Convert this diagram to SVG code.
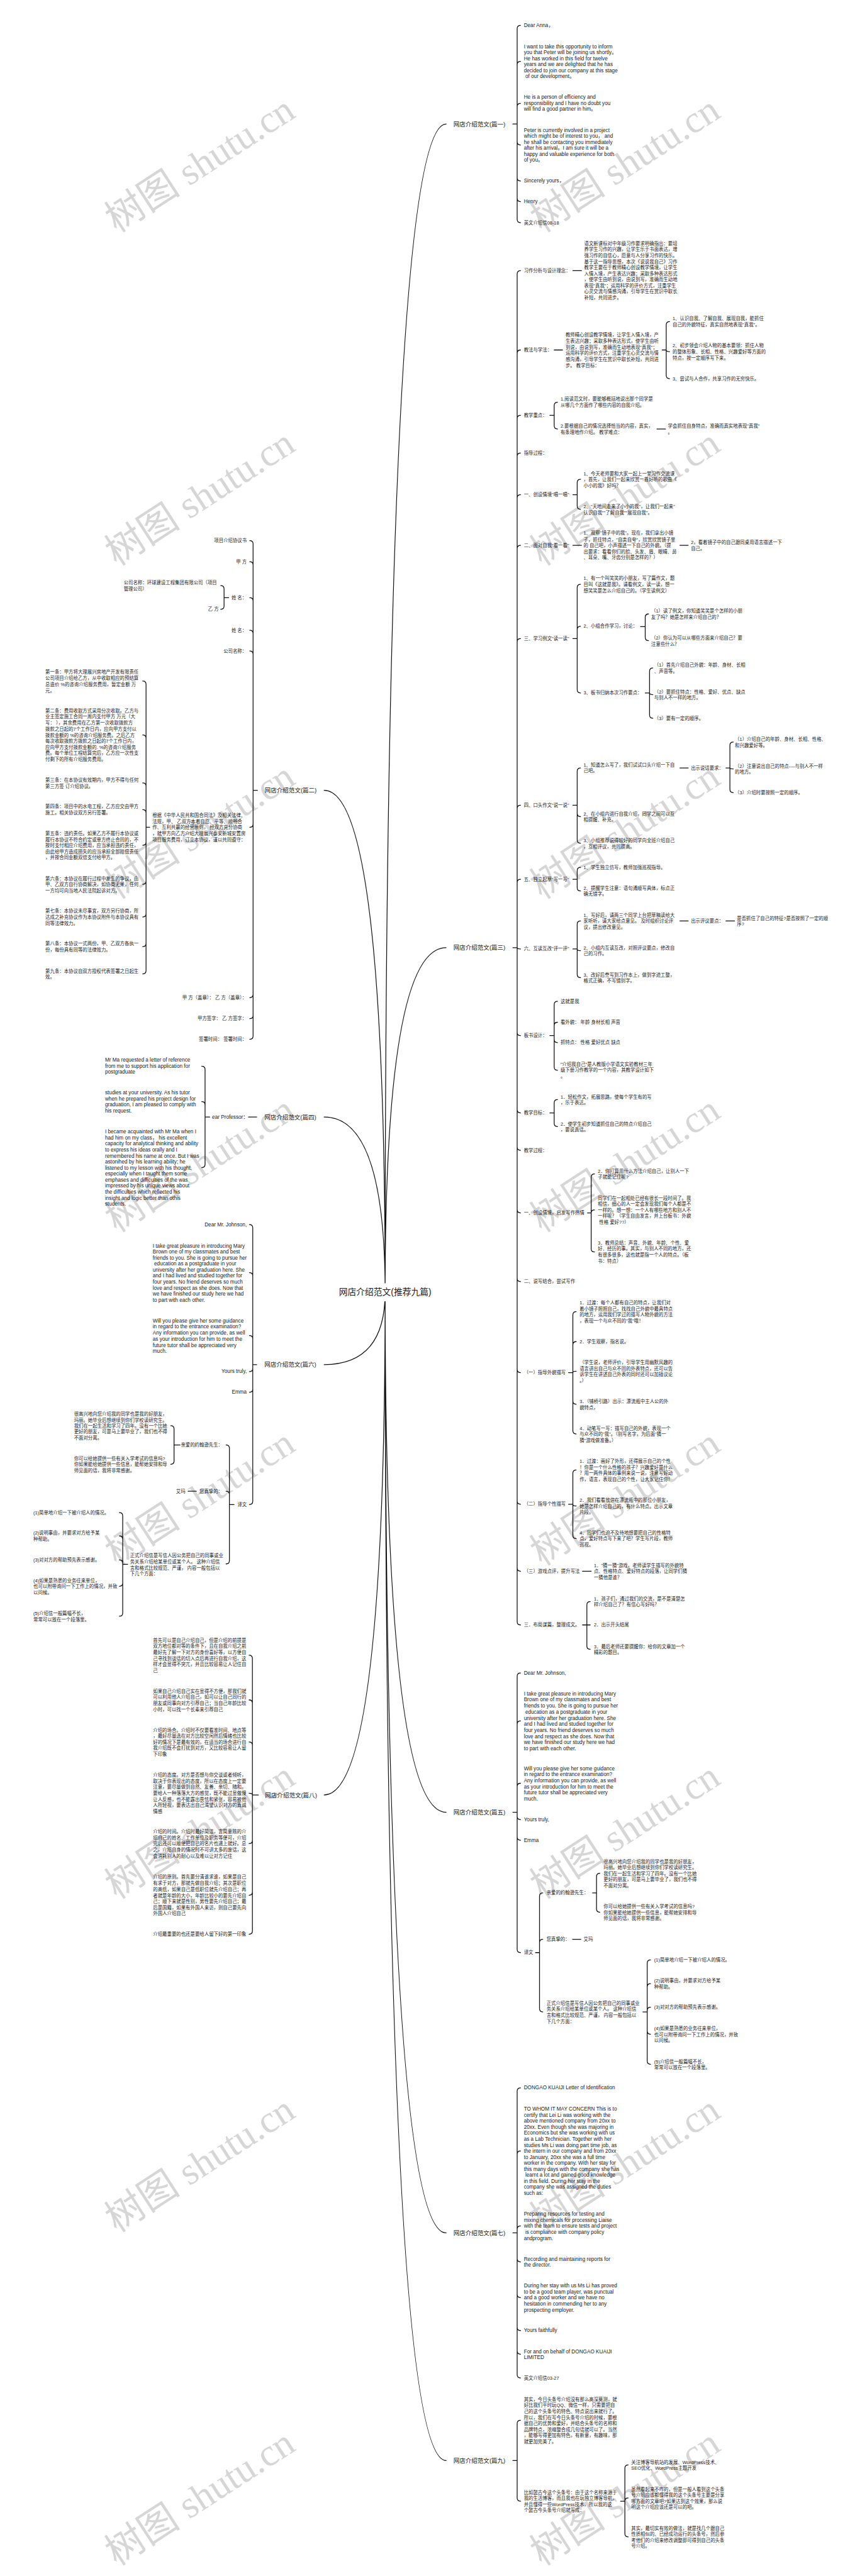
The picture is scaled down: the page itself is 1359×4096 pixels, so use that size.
<svg xmlns="http://www.w3.org/2000/svg" width="1359" height="4096" viewBox="0 0 1359 4096">
<style>
.t{font-family:"Liberation Sans","Noto Sans CJK SC",sans-serif;font-size:14px;fill:#1a1a1a;dominant-baseline:central}
.e{font-size:15.5px}
.h{font-size:18px}
.r{font-size:26px}
.a{text-anchor:end}
.c{fill:none;stroke:#111;stroke-width:2.4;stroke-linecap:round}
.wm{font-family:"Liberation Serif","Noto Sans CJK SC",serif;font-size:115px;fill:#d6d6d6}
</style>
<rect width="1359" height="4096" fill="#fff"/>
<g transform="scale(0.53)">
<g id="watermarks">
<text class="wm" transform="translate(350 700) rotate(-33)">树图 shutu.cn</text>
<text class="wm" transform="translate(1625 700) rotate(-33)">树图 shutu.cn</text>
<text class="wm" transform="translate(350 1700) rotate(-33)">树图 shutu.cn</text>
<text class="wm" transform="translate(1625 1700) rotate(-33)">树图 shutu.cn</text>
<text class="wm" transform="translate(350 2700) rotate(-33)">树图 shutu.cn</text>
<text class="wm" transform="translate(1625 2700) rotate(-33)">树图 shutu.cn</text>
<text class="wm" transform="translate(350 3700) rotate(-33)">树图 shutu.cn</text>
<text class="wm" transform="translate(1625 3700) rotate(-33)">树图 shutu.cn</text>
<text class="wm" transform="translate(350 4700) rotate(-33)">树图 shutu.cn</text>
<text class="wm" transform="translate(1625 4700) rotate(-33)">树图 shutu.cn</text>
<text class="wm" transform="translate(350 5700) rotate(-33)">树图 shutu.cn</text>
<text class="wm" transform="translate(1625 5700) rotate(-33)">树图 shutu.cn</text>
<text class="wm" transform="translate(350 6700) rotate(-33)">树图 shutu.cn</text>
<text class="wm" transform="translate(1625 6700) rotate(-33)">树图 shutu.cn</text>
<text class="wm" transform="translate(350 7700) rotate(-33)">树图 shutu.cn</text>
<text class="wm" transform="translate(1625 7700) rotate(-33)">树图 shutu.cn</text>
</g>
<g id="connectors">
<path class="c" d="M1155 3877Q1155 372 1338 372M1155 3877Q1155 2843 1338 2843M1155 3877Q1155 5437 1338 5437M1155 3877Q1155 6699 1338 6699M1155 3877Q1155 7382 1338 7382M1155 3877Q1155 2371 972 2371M1155 3877Q1155 3351 972 3351M1155 3877Q1155 4094 972 4094M1155 3877Q1155 5385 972 5385"/>
<path class="c" d="M1538 372H1551M1551 372V86Q1551 76 1561 76M1551 372V194Q1551 184 1561 184M1551 372V320Q1551 310 1561 310M1551 372V425Q1551 435 1561 435M1551 372V533Q1551 543 1561 543M1551 372V595Q1551 605 1561 605M1551 372V658Q1551 668 1561 668"/>
<path class="c" d="M1538 2843H1551M1551 2843V822Q1551 812 1561 812M1551 2843V1060Q1551 1050 1561 1050M1551 2843V1256Q1551 1246 1561 1246M1551 2843V1369Q1551 1359 1561 1359M1551 2843V1494Q1551 1484 1561 1484M1551 2843V1646Q1551 1636 1561 1636M1551 2843V1926Q1551 1916 1561 1916M1551 2843V2426Q1551 2416 1561 2416M1551 2843V2648Q1551 2638 1561 2638M1551 2843Q1551 2847 1561 2847M1551 2843V3097Q1551 3107 1561 3107M1551 2843V3329Q1551 3339 1561 3339M1551 2843V3441Q1551 3451 1561 3451M1551 2843V3629Q1551 3639 1561 3639M1551 2843V3835Q1551 3845 1561 3845M1551 2843V4108Q1551 4118 1561 4118M1551 2843V4503Q1551 4513 1561 4513M1551 2843V4704Q1551 4714 1561 4714M1551 2843V4865Q1551 4875 1561 4875"/>
<path class="c" d="M1718 812H1744M1662 1050H1687M1986 1050H1998M1998 1050V975Q1998 965 2008 965M1998 1050Q1998 1055 2008 1055M1998 1050V1126Q1998 1136 2008 1136M1649 1246H1662M1662 1246V1217Q1662 1207 1672 1207M1662 1246V1277Q1662 1287 1672 1287M1970 1287H1996M1718 1484H1731M1731 1484V1448Q1731 1438 1741 1438M1731 1484V1518Q1731 1528 1741 1528M1718 1636H1744M2039 1636H2064M1718 1916H1731M1731 1916V1763Q1731 1753 1741 1753M1731 1916V1889Q1731 1879 1741 1879M1731 1916V2069Q1731 2079 1741 2079M1921 1880H1935M1935 1880V1852Q1935 1842 1945 1842M1935 1880V1912Q1935 1922 1945 1922M1935 2079H1948M1948 2079V2014Q1948 2004 1958 2004M1948 2079Q1948 2084 1958 2084M1948 2079V2145Q1948 2155 1958 2155M1718 2416H1731M1731 2416V2314Q1731 2304 1741 2304M1731 2416V2440Q1731 2450 1741 2450M1731 2416V2520Q1731 2530 1741 2530M2039 2304H2064M2177 2304H2189M2189 2304V2236Q2189 2226 2199 2226M2189 2304Q2189 2307 2199 2307M2189 2304V2368Q2189 2378 2199 2378M1718 2638H1731M1731 2638V2612Q1731 2602 1741 2602M1731 2638V2663Q1731 2673 1741 2673M1718 2847H1731M1731 2847V2773Q1731 2763 1741 2763M1731 2847Q1731 2852 1741 2852M1731 2847V2923Q1731 2933 1741 2933M2039 2763H2064M2177 2763H2203M1649 3107H1662M1662 3107V3014Q1662 3004 1672 3004M1662 3107V3077Q1662 3067 1672 3067M1662 3107V3118Q1662 3128 1672 3128M1662 3107V3201Q1662 3211 1672 3211M1649 3339H1662M1662 3339V3309Q1662 3299 1672 3299M1662 3339V3370Q1662 3380 1672 3380M1762 3639H1773M1773 3639V3532Q1773 3522 1783 3522M1773 3639Q1773 3630 1783 3630M1773 3639V3746Q1773 3756 1783 3756M1705 4118H1718M1718 4118V3945Q1718 3935 1728 3935M1718 4118V4035Q1718 4025 1728 4025M1718 4118Q1718 4114 1728 4114M1718 4118V4203Q1718 4213 1728 4213M1718 4118V4292Q1718 4302 1728 4302M1705 4513H1718M1718 4513V4420Q1718 4410 1728 4410M1718 4513Q1718 4518 1728 4518M1718 4513V4606Q1718 4616 1728 4616M1747 4714H1773M1747 4875H1760M1760 4875V4815Q1760 4805 1770 4805M1760 4875H1770M1760 4875V4938Q1760 4948 1770 4948"/>
<path class="c" d="M1538 5437H1551M1551 5437V5029Q1551 5019 1561 5019M1551 5437V5173Q1551 5163 1561 5163M1551 5437V5360Q1551 5350 1561 5350M1551 5437V5449Q1551 5459 1561 5459M1551 5437V5511Q1551 5521 1561 5521M1551 5437V5848Q1551 5858 1561 5858M1606 5858H1618M1618 5858V5689Q1618 5679 1628 5679M1618 5858V5828Q1618 5818 1628 5818M1618 5858V6026Q1618 6036 1628 6036M1777 5679H1789M1789 5679V5630Q1789 5620 1799 5620M1789 5679V5727Q1789 5737 1799 5737M1717 5818H1742M1928 6036H1941M1941 6036V5890Q1941 5880 1951 5880M1941 6036V5961Q1941 5951 1951 5951M1941 6036V6032Q1941 6022 1951 6022M1941 6036V6093Q1941 6103 1951 6103M1941 6036V6183Q1941 6193 1951 6193"/>
<path class="c" d="M1538 6699H1551M1551 6699V6274Q1551 6264 1561 6264M1551 6699V6463Q1551 6453 1561 6453M1551 6699V6688Q1551 6678 1561 6678M1551 6699V6776Q1551 6786 1561 6786M1551 6699V6883Q1551 6893 1561 6893M1551 6699V6982Q1551 6992 1561 6992M1551 6699V7053Q1551 7063 1561 7063M1551 6699V7124Q1551 7134 1561 7134"/>
<path class="c" d="M1538 7382H1551M1551 7382V7271Q1551 7261 1561 7261M1551 7382V7494Q1551 7504 1561 7504M1861 7504H1874M1874 7504V7405Q1874 7395 1884 7395M1874 7504Q1874 7494 1884 7494M1874 7504V7601Q1874 7611 1884 7611"/>
<path class="c" d="M772 2371H759M759 2371V1632Q759 1622 749 1622M759 2371V1695Q759 1685 749 1685M759 2371V1803Q759 1793 749 1793M759 2371V1901Q759 1891 749 1891M759 2371V1963Q759 1953 749 1953M759 2371V2472Q759 2482 749 2482M759 2371V2983Q759 2993 749 2993M759 2371V3046Q759 3056 749 3056M759 2371V3108Q759 3118 749 3118M686 1793H672M672 1793V1767Q672 1757 662 1757M672 1793V1818Q672 1828 662 1828M449 2482H438M438 2482V2053Q438 2043 428 2043M438 2482V2215Q438 2205 428 2205M438 2482V2359Q438 2349 428 2349M438 2482V2439Q438 2429 428 2429M438 2482V2526Q438 2536 428 2536M438 2482V2643Q438 2653 428 2653M438 2482V2741Q438 2751 428 2751M438 2482V2830Q438 2840 428 2840M438 2482V2912Q438 2922 428 2922"/>
<path class="c" d="M770 3351H745M629 3351H615M615 3351V3209Q615 3199 605 3199M615 3351V3315Q615 3305 605 3305M615 3351V3493Q615 3503 605 3503"/>
<path class="c" d="M770 4094H758M758 4094V3684Q758 3674 748 3674M758 4094V3828Q758 3818 748 3818M758 4094V4017Q758 4007 748 4007M758 4094V4105Q758 4115 748 4115M758 4094V4167Q758 4177 748 4177M758 4094V4504Q758 4514 748 4514M702 4514H688M688 4514V4345Q688 4335 678 4335M688 4514V4484Q688 4474 678 4474M688 4514V4682Q688 4692 678 4692M540 4335H522M522 4335V4287Q522 4277 512 4277M522 4335V4383Q522 4393 512 4393M589 4474H564M383 4693H368M368 4693V4548Q368 4538 358 4538M368 4693V4618Q368 4608 358 4608M368 4693V4690Q368 4680 358 4680M368 4693V4749Q368 4759 358 4759M368 4693V4839Q368 4849 358 4849"/>
<path class="c" d="M775 5385H757M757 5385V4976Q757 4966 747 4966M757 5385V5110Q757 5100 747 5100M757 5385V5236Q757 5226 747 5226M757 5385Q757 5380 747 5380M757 5385V5521Q757 5531 747 5531M757 5385V5676Q757 5686 747 5686M757 5385V5793Q757 5803 747 5803"/>
</g>
<g id="root"><rect x="1012" y="3850" width="286" height="54" fill="#fff"/><text class="t r" x="1155" y="3877" text-anchor="middle">网店介绍范文(推荐九篇)</text></g>
<g id="p1"><text class="t h" x="1360" y="372">网店介绍范文(篇一)</text></g>
<g id="p1-1"><text class="t e" x="1571" y="76">Dear Anna，</text></g>
<g id="p1-2"><text class="t e"><tspan x="1571" y="139">I want to take this opportunity to inform</tspan><tspan x="1571" y="157">you that Peter will be joining us shortly。</tspan><tspan x="1571" y="175">He has worked in this field for twelve</tspan><tspan x="1571" y="193">years and we are delighted that he has</tspan><tspan x="1571" y="211">decided to join our company at this stage</tspan><tspan x="1571" y="229"> of our development。</tspan></text></g>
<g id="p1-3"><text class="t e"><tspan x="1571" y="291">He is a person of efficiency and</tspan><tspan x="1571" y="309">responsibility and I have no doubt you</tspan><tspan x="1571" y="327">will find a good partner in him。</tspan></text></g>
<g id="p1-4"><text class="t e"><tspan x="1571" y="390">Peter is currently involved in a project</tspan><tspan x="1571" y="408">which might be of interest to you，  and</tspan><tspan x="1571" y="426">he shall be contacting you immediately</tspan><tspan x="1571" y="444">after his arrival。I am sure it will be a</tspan><tspan x="1571" y="462">happy and valuable experience for both</tspan><tspan x="1571" y="480">of you。</tspan></text></g>
<g id="p1-5"><text class="t e" x="1571" y="543">Sincerely yours，</text></g>
<g id="p1-6"><text class="t e" x="1571" y="605">Henry</text></g>
<g id="p1-7"><text class="t" x="1571" y="668">英文介绍信08-18</text></g>
<g id="p3"><text class="t h" x="1360" y="2843">网店介绍范文(篇三)</text></g>
<g id="p3-1"><text class="t" x="1571" y="812">习作分析与设计理念：</text></g>
<g id="p3-1-1"><text class="t"><tspan x="1752" y="730">语文新课标对中年级习作要求明确指出：要培</tspan><tspan x="1752" y="748">养学生习作的兴趣，让学生乐于书面表达，增</tspan><tspan x="1752" y="766">强习作的自信心，愿意与人分享习作的快乐。</tspan><tspan x="1752" y="784">基于这一指导思想，本次《说说我自己》习作</tspan><tspan x="1752" y="802">教学主要在于教师精心创设教学情境，让学生</tspan><tspan x="1752" y="820">入情入境，产生表达兴趣；采取多种表达形式</tspan><tspan x="1752" y="838">，使学生由听到说，由说到写，准确而生动地</tspan><tspan x="1752" y="856">表现"真我"；运用科学的评价方式，注重学生</tspan><tspan x="1752" y="874">心灵交流与情感沟通，引导学生在赏识中取长</tspan><tspan x="1752" y="892">补短，共同进步。</tspan></text></g>
<g id="p3-2"><text class="t" x="1571" y="1050">教法与学法：</text></g>
<g id="p3-2-1"><text class="t"><tspan x="1696" y="1004">教师精心创设教学情境，让学生入情入境，产</tspan><tspan x="1696" y="1022">生表达兴趣；采取多种表达形式，使学生由听</tspan><tspan x="1696" y="1041">到说，由说到写，准确而生动地表现"真我"；</tspan><tspan x="1696" y="1059">运用科学的评价方式，注重学生心灵交流与情</tspan><tspan x="1696" y="1077">感沟通，引导学生在赏识中取长补短，共同进</tspan><tspan x="1696" y="1096">步。 教学目标：</tspan></text></g>
<g id="p3-2-1-1"><text class="t"><tspan x="2017" y="955">1、认识自我、了解自我、展现自我，能抓住</tspan><tspan x="2017" y="974">自己的外貌特征，真实自然地表现"真我"。</tspan></text></g>
<g id="p3-2-1-2"><text class="t"><tspan x="2017" y="1036">2、初步领会介绍人物的基本要领：抓住人物</tspan><tspan x="2017" y="1054">的整体形象、长相、性格、兴趣爱好等方面的</tspan><tspan x="2017" y="1073">特点，按一定顺序写下来。</tspan></text></g>
<g id="p3-2-1-3"><text class="t" x="2017" y="1136">3、尝试与人合作，共享习作的无穷快乐。</text></g>
<g id="p3-3"><text class="t" x="1571" y="1246">教学重点：</text></g>
<g id="p3-3-1"><text class="t"><tspan x="1681" y="1197">1.阅读范文时，要能够概括地说出那个同学是</tspan><tspan x="1681" y="1216">从哪几个方面作了哪些内容的自我介绍。</tspan></text></g>
<g id="p3-3-2"><text class="t"><tspan x="1681" y="1278">2.要根据自己的情况选择恰当的内容，真实，</tspan><tspan x="1681" y="1296">有条理地作介绍。 教学难点：</tspan></text></g>
<g id="p3-3-2-1"><text class="t"><tspan x="2003" y="1278">学会抓住自身特点，准确而真实地表现"真我"</tspan><tspan x="2003" y="1297">。</tspan></text></g>
<g id="p3-4"><text class="t" x="1571" y="1359">指导过程：</text></g>
<g id="p3-5"><text class="t" x="1571" y="1484">一、创设情境"唱一唱"</text></g>
<g id="p3-5-1"><text class="t"><tspan x="1750" y="1420">1、今天老师要和大家一起上一堂习作交流课</tspan><tspan x="1750" y="1438">，首先，让我们一起来欣赏一首好听的歌曲《</tspan><tspan x="1750" y="1457">小小的我》好吗？</tspan></text></g>
<g id="p3-5-2"><text class="t"><tspan x="1750" y="1519">2、"天地间走来了小小的我"，让我们一起来"</tspan><tspan x="1750" y="1538">认识自我""了解自我""展现自我"。</tspan></text></g>
<g id="p3-6"><text class="t" x="1571" y="1636">二、面对自我"看一看"</text></g>
<g id="p3-6-1"><text class="t"><tspan x="1750" y="1599">1、观察"镜子中的我"。现在，我们拿出小镜</tspan><tspan x="1750" y="1618">子，抓住特点，"自卖自夸"，欣赏欣赏镜子里</tspan><tspan x="1750" y="1636">的 自己吧，小声描述一下自己的外貌。（提</tspan><tspan x="1750" y="1654">出要求：看看你们的脸、头发、眉、眼睛、鼻</tspan><tspan x="1750" y="1672">、耳朵、嘴、牙齿分别是怎样的？）</tspan></text></g>
<g id="p3-6-1-1"><text class="t"><tspan x="2072" y="1627">2，看着镜子中的自己跟同桌用语言描述一下</tspan><tspan x="2072" y="1645">自己。</tspan></text></g>
<g id="p3-7"><text class="t" x="1571" y="1916">三、学习例文"读一读"</text></g>
<g id="p3-7-1"><text class="t"><tspan x="1750" y="1734">1、有一个叫笑笑的小朋友，写了篇作文，题</tspan><tspan x="1750" y="1753">目叫《这就是我》。请看例文，读一读，想一</tspan><tspan x="1750" y="1771">想笑笑是怎么介绍自己的。（学生读例文）</tspan></text></g>
<g id="p3-7-2"><text class="t" x="1750" y="1879">2、小组合作学习，讨论：</text></g>
<g id="p3-7-2-1"><text class="t"><tspan x="1953" y="1832">（1）读了例文，你知道笑笑是个怎样的小朋</tspan><tspan x="1953" y="1851">友了吗？她是怎样来介绍自己的？</tspan></text></g>
<g id="p3-7-2-2"><text class="t"><tspan x="1953" y="1913">（2）你认为可以从哪些方面来介绍自己？要</tspan><tspan x="1953" y="1932">注意些什么？</tspan></text></g>
<g id="p3-7-3"><text class="t" x="1750" y="2079">3、板书归纳本次习作要点：</text></g>
<g id="p3-7-3-1"><text class="t"><tspan x="1962" y="1994">（1）首先介绍自己外貌：年龄、身材、长相</tspan><tspan x="1962" y="2013">、声音等。</tspan></text></g>
<g id="p3-7-3-2"><text class="t"><tspan x="1962" y="2075">（2）要抓住特点：性格、爱好、优点、缺点</tspan><tspan x="1962" y="2093">与别人不一样的地方。</tspan></text></g>
<g id="p3-7-3-3"><text class="t" x="1962" y="2155">（3）要有一定的顺序。</text></g>
<g id="p3-8"><text class="t" x="1571" y="2416">四、口头作文"说一说"</text></g>
<g id="p3-8-1"><text class="t"><tspan x="1750" y="2295">1、知道怎么写了，我们试试口头介绍一下自</tspan><tspan x="1750" y="2312">己吧。</tspan></text></g>
<g id="p3-8-1-1"><text class="t" x="2072" y="2304">出示说话要求：</text></g>
<g id="p3-8-1-1-1"><text class="t"><tspan x="2204" y="2217">（1）介绍自己的年龄、身材、长相、性格、</tspan><tspan x="2204" y="2235">和兴趣爱好等。</tspan></text></g>
<g id="p3-8-1-1-2"><text class="t"><tspan x="2204" y="2298">（2）注意说出自己的特点----与别人不一样</tspan><tspan x="2204" y="2316">的地方。</tspan></text></g>
<g id="p3-8-1-1-3"><text class="t" x="2204" y="2378">（3）介绍时要按照一定的顺序。</text></g>
<g id="p3-8-2"><text class="t"><tspan x="1750" y="2441">2、在小组内进行自我介绍，同学之间可以互</tspan><tspan x="1750" y="2458">相提醒、补充。</tspan></text></g>
<g id="p3-8-3"><text class="t"><tspan x="1750" y="2521">3、小组推荐说得较好的同学向全班介绍自己</tspan><tspan x="1750" y="2539">，互相评议，共同提高。</tspan></text></g>
<g id="p3-9"><text class="t" x="1571" y="2638">五、独立起草"写一写"</text></g>
<g id="p3-9-1"><text class="t" x="1750" y="2602">1、学生独立仿写，教师加强巡视指导。</text></g>
<g id="p3-9-2"><text class="t"><tspan x="1750" y="2664">2、提醒学生注意：语句通顺写具体，标点正</tspan><tspan x="1750" y="2682">确无错字。</tspan></text></g>
<g id="p3-10"><text class="t" x="1571" y="2847">六、互读互改"评一评"</text></g>
<g id="p3-10-1"><text class="t"><tspan x="1750" y="2745">1、写好后，请两三个同学上台把草稿读给大</tspan><tspan x="1750" y="2763">家听听，请大家给点意见。 及时组织讨论评</tspan><tspan x="1750" y="2781">议，提出修改意见。</tspan></text></g>
<g id="p3-10-1-1"><text class="t" x="2072" y="2763">出示评议要点：</text></g>
<g id="p3-10-1-1-1"><text class="t"><tspan x="2210" y="2754">是否抓住了自己的特征?是否按照了一定的顺</tspan><tspan x="2210" y="2772">序?</tspan></text></g>
<g id="p3-10-2"><text class="t"><tspan x="1750" y="2843">2、小组内互读互改，对照评议要点，修改自</tspan><tspan x="1750" y="2861">己的习作。</tspan></text></g>
<g id="p3-10-3"><text class="t"><tspan x="1750" y="2924">3、改好后誊写到习作本上，做到字迹工整，</tspan><tspan x="1750" y="2942">格式正确，不写错别字。</tspan></text></g>
<g id="p3-11"><text class="t" x="1571" y="3107">板书设计：</text></g>
<g id="p3-11-1"><text class="t" x="1681" y="3004">这就是我</text></g>
<g id="p3-11-2"><text class="t" x="1681" y="3067">看外貌： 年龄 身材长相 声音</text></g>
<g id="p3-11-3"><text class="t" x="1681" y="3128">抓特点： 性格 爱好优点 缺点</text></g>
<g id="p3-11-4"><text class="t"><tspan x="1681" y="3192">"介绍我自己"是人教版小学语文实验教材三年</tspan><tspan x="1681" y="3210">级下册习作教学的一个内容，其教学设计如下</tspan><tspan x="1681" y="3229">。</tspan></text></g>
<g id="p3-12"><text class="t" x="1571" y="3339">教学目标：</text></g>
<g id="p3-12-1"><text class="t"><tspan x="1681" y="3290">1．轻松作文，拓展思路，使每个学生有的写</tspan><tspan x="1681" y="3308">，乐于表达。</tspan></text></g>
<g id="p3-12-2"><text class="t"><tspan x="1681" y="3371">2．使学生初步知道抓住自己的特点介绍自己</tspan><tspan x="1681" y="3389">，要说真话。</tspan></text></g>
<g id="p3-13"><text class="t" x="1571" y="3451">教学过程：</text></g>
<g id="p3-14"><text class="t" x="1571" y="3639">一、创设情境，启发写作热情</text></g>
<g id="p3-14-1"><text class="t"><tspan x="1793" y="3513">2．你打算用什么方法介绍自己，让别人一下</tspan><tspan x="1793" y="3531">子就能记住呢?</tspan></text></g>
<g id="p3-14-2"><text class="t"><tspan x="1793" y="3594">同学们在一起相处已经有很长一段时间了。我</tspan><tspan x="1793" y="3612">相信，细心的人一定会发现我们每个人都是不</tspan><tspan x="1793" y="3630">一样的。想一想：一个人有哪些地方和别人不</tspan><tspan x="1793" y="3648">一样呢？（学生自由发言，并上台板书：外貌</tspan><tspan x="1793" y="3666"> 性格 爱好??）</tspan></text></g>
<g id="p3-14-3"><text class="t"><tspan x="1793" y="3728">3．教师总结：声音、外貌、年龄、个性、爱</tspan><tspan x="1793" y="3746">好、经历的事。其实，与别人不同的地方，还</tspan><tspan x="1793" y="3765">有很多很多，这也就是指一个人的特点。（板</tspan><tspan x="1793" y="3783">书：特点）</tspan></text></g>
<g id="p3-15"><text class="t" x="1571" y="3845">二、说写结合，尝试写作</text></g>
<g id="p3-16"><text class="t" x="1571" y="4118">（一）指导外貌描写</text></g>
<g id="p3-16-1"><text class="t"><tspan x="1738" y="3908">1．过渡：每个人都有自己的特点，让我们对</tspan><tspan x="1738" y="3926">着小镜子照照自己，找找自己外貌中最具特点</tspan><tspan x="1738" y="3944">的地方，运用我们学过的描写人物外貌的方法</tspan><tspan x="1738" y="3962">，表现一个与众不同的"我"哦！</tspan></text></g>
<g id="p3-16-2"><text class="t" x="1738" y="4025">2．学生观察，指名说。</text></g>
<g id="p3-16-3"><text class="t"><tspan x="1738" y="4087">（学生说，老师评价，引导学生用幽默风趣的</tspan><tspan x="1738" y="4105">语言讲出自己与众不同的外表特点，还可以告</tspan><tspan x="1738" y="4123">诉学生在讲述自己外表的同时还可以加插议论</tspan><tspan x="1738" y="4141">。）</tspan></text></g>
<g id="p3-16-4"><text class="t"><tspan x="1738" y="4204">3．（铺桥引路）出示：漂流瓶中主人公的外</tspan><tspan x="1738" y="4222">貌特点，</tspan></text></g>
<g id="p3-16-5"><text class="t"><tspan x="1738" y="4284">4．动笔写一写：描写自己的外貌，表现一个</tspan><tspan x="1738" y="4302">与众不同的"我"。（别写名字，为后面"猜一</tspan><tspan x="1738" y="4320">猜"游戏做准备。）</tspan></text></g>
<g id="p3-17"><text class="t" x="1571" y="4513">（二）指导个性描写</text></g>
<g id="p3-17-1"><text class="t"><tspan x="1738" y="4383">1．过渡：画好了外形，还得展示自己的个性</tspan><tspan x="1738" y="4401">！你是一个什么性格的孩子？兴趣爱好是什么</tspan><tspan x="1738" y="4419">？用一两件具体的事例来说一说，注意写好动</tspan><tspan x="1738" y="4437">作，语言，表现自己的个性，让大家记住你！</tspan></text></g>
<g id="p3-17-2"><text class="t"><tspan x="1738" y="4500">2．我们看看放信在漂流瓶中的那位小朋友，</tspan><tspan x="1738" y="4518">她是怎样介绍自己的，有什么特点。出示文章</tspan><tspan x="1738" y="4536">片段。</tspan></text></g>
<g id="p3-17-3"><text class="t"><tspan x="1738" y="4598">4．同学们也迫不及待地想要把自己的性格特</tspan><tspan x="1738" y="4616">点，爱好特点写下来了吧？学生写片段，教师</tspan><tspan x="1738" y="4634">巡视。</tspan></text></g>
<g id="p3-18"><text class="t" x="1571" y="4714">（三）游戏点评，提升写法</text></g>
<g id="p3-18-1"><text class="t"><tspan x="1781" y="4697">1．"猜一猜"游戏。老师读学生描写的外貌特</tspan><tspan x="1781" y="4714">点、性格特点、爱好特点的段落，让同学们猜</tspan><tspan x="1781" y="4732">一猜他是谁？</tspan></text></g>
<g id="p3-19"><text class="t" x="1571" y="4875">三．布局谋篇，整理成文。</text></g>
<g id="p3-19-1"><text class="t"><tspan x="1781" y="4796">1．孩子们，通过我们的交流，是不是清楚怎</tspan><tspan x="1781" y="4814">样介绍自己了？有信心写好吗？</tspan></text></g>
<g id="p3-19-2"><text class="t" x="1781" y="4875">2．出示开头结尾</text></g>
<g id="p3-19-3"><text class="t"><tspan x="1781" y="4939">3．最后老师还要提醒你：给你的文章加一个</tspan><tspan x="1781" y="4957">精彩的题目。</tspan></text></g>
<g id="p5"><text class="t h" x="1360" y="5437">网店介绍范文(篇五)</text></g>
<g id="p5-1"><text class="t e" x="1571" y="5019">Dear Mr. Johnson,</text></g>
<g id="p5-2"><text class="t e"><tspan x="1571" y="5081">I take great pleasure in introducing Mary</tspan><tspan x="1571" y="5099">Brown one of my classmates and best</tspan><tspan x="1571" y="5117">friends to you. She is going to pursue her</tspan><tspan x="1571" y="5136"> education as a postgraduate in your</tspan><tspan x="1571" y="5154">university after her graduation here. She</tspan><tspan x="1571" y="5172">and I had lived and studied together for</tspan><tspan x="1571" y="5190">four years. No friend deserves so much</tspan><tspan x="1571" y="5209">love and respect as she does. Now that</tspan><tspan x="1571" y="5227">we have finished our study here we had</tspan><tspan x="1571" y="5245">to part with each other.</tspan></text></g>
<g id="p5-3"><text class="t e"><tspan x="1571" y="5305">Will you please give her some guidance</tspan><tspan x="1571" y="5323">in regard to the entrance examination?</tspan><tspan x="1571" y="5341">Any information you can provide, as well</tspan><tspan x="1571" y="5360">as your introduction for him to meet the</tspan><tspan x="1571" y="5378">future tutor shall be appreciated very</tspan><tspan x="1571" y="5396">much.</tspan></text></g>
<g id="p5-4"><text class="t e" x="1571" y="5459">Yours truly,</text></g>
<g id="p5-5"><text class="t e" x="1571" y="5521">Emma</text></g>
<g id="p5-6"><text class="t" x="1571" y="5858">译文</text></g>
<g id="p5-6-1"><text class="t" x="1639" y="5679">亲爱的约翰逊先生：</text></g>
<g id="p5-6-1-1"><text class="t"><tspan x="1810" y="5584">很高兴地向您介绍我的同学也是我的好朋友，</tspan><tspan x="1810" y="5602">玛丽。她毕业后想继续到你们学校读研究生。</tspan><tspan x="1810" y="5620">我们在一起生活和学习了四年。没有一个比她</tspan><tspan x="1810" y="5638">更好的朋友，可是马上要毕业了，我们也不得</tspan><tspan x="1810" y="5657">不面对分离。</tspan></text></g>
<g id="p5-6-1-2"><text class="t"><tspan x="1810" y="5718">你可以给她提供一些有关入学考试的信息吗?</tspan><tspan x="1810" y="5737">你如果能给她提供一些信息，能帮她安排和导</tspan><tspan x="1810" y="5755">师见面的话，我将非常感谢。</tspan></text></g>
<g id="p5-6-2"><text class="t" x="1639" y="5818">您真挚的：</text></g>
<g id="p5-6-2-1"><text class="t" x="1750" y="5818">艾玛</text></g>
<g id="p5-6-3"><text class="t"><tspan x="1639" y="6009">正式介绍信是写信人因公务把自己的同事或业</tspan><tspan x="1639" y="6027">务关系介绍给某单位或某个人。 这种介绍信</tspan><tspan x="1639" y="6046">言和格式比较规范、严谨， 内容一般包括以</tspan><tspan x="1639" y="6064">下几个方面：</tspan></text></g>
<g id="p5-6-3-1"><text class="t" x="1962" y="5880">(1)简单地介绍一下被介绍人的情况。</text></g>
<g id="p5-6-3-2"><text class="t"><tspan x="1962" y="5942">(2)说明事由，并要求对方给予某</tspan><tspan x="1962" y="5960">种帮助。</tspan></text></g>
<g id="p5-6-3-3"><text class="t" x="1962" y="6022">(3)对对方的帮助预先表示感谢。</text></g>
<g id="p5-6-3-4"><text class="t"><tspan x="1962" y="6085">(4)如果是熟悉的业务往来单位，</tspan><tspan x="1962" y="6103">也可以附带询问一下工作上的情况，并致</tspan><tspan x="1962" y="6121">以问候。</tspan></text></g>
<g id="p5-6-3-5"><text class="t"><tspan x="1962" y="6184">(5)介绍信一般篇幅不长，</tspan><tspan x="1962" y="6202">常常可以放在一个段落里。</tspan></text></g>
<g id="p7"><text class="t h" x="1360" y="6699">网店介绍范文(篇七)</text></g>
<g id="p7-1"><text class="t e" x="1571" y="6264">DONGAO KUAIJI Letter of Identification</text></g>
<g id="p7-2"><text class="t e"><tspan x="1571" y="6327">TO WHOM IT MAY CONCERN This is to</tspan><tspan x="1571" y="6345">certify that Lei Li was working with the</tspan><tspan x="1571" y="6363">above mentioned company from 20xx to</tspan><tspan x="1571" y="6381">20xx. Even though she was majoring in</tspan><tspan x="1571" y="6399">Economics but she was working with us</tspan><tspan x="1571" y="6417">as a Lab Technician. Together with her</tspan><tspan x="1571" y="6435">studies Ms Li was doing part time job, as</tspan><tspan x="1571" y="6453">the intern in our company and from 20xx</tspan><tspan x="1571" y="6471">to January, 20xx she was a full time</tspan><tspan x="1571" y="6489">worker in the company. With her stay for</tspan><tspan x="1571" y="6507">this many days with the company she has</tspan><tspan x="1571" y="6525"> learnt a lot and gained good knowledge</tspan><tspan x="1571" y="6543">in this field. During her stay in the</tspan><tspan x="1571" y="6561">company she was assigned the duties</tspan><tspan x="1571" y="6579">such as:</tspan></text></g>
<g id="p7-3"><text class="t e"><tspan x="1571" y="6642">Preparing resources for testing and</tspan><tspan x="1571" y="6660">mixing chemicals for processing Liaise</tspan><tspan x="1571" y="6678">with the team to ensure tests and project</tspan><tspan x="1571" y="6697"> is compliance with company policy</tspan><tspan x="1571" y="6715">andprogram.</tspan></text></g>
<g id="p7-4"><text class="t e"><tspan x="1571" y="6777">Recording and maintaining reports for</tspan><tspan x="1571" y="6795">the director.</tspan></text></g>
<g id="p7-5"><text class="t e"><tspan x="1571" y="6857">During her stay with us Ms Li has proved</tspan><tspan x="1571" y="6875">to be a good team player, was punctual</tspan><tspan x="1571" y="6893">and a good worker and we have no</tspan><tspan x="1571" y="6911">hesitation in commending her to any</tspan><tspan x="1571" y="6930">prospecting employer.</tspan></text></g>
<g id="p7-6"><text class="t e" x="1571" y="6992">Yours faithfully</text></g>
<g id="p7-7"><text class="t e"><tspan x="1571" y="7054">For and on behalf of DONGAO KUAIJI</tspan><tspan x="1571" y="7072">LIMITED</tspan></text></g>
<g id="p7-8"><text class="t" x="1571" y="7134">英文介绍信03-27</text></g>
<g id="p9"><text class="t h" x="1360" y="7382">网店介绍范文(篇九)</text></g>
<g id="p9-1"><text class="t"><tspan x="1571" y="7198">其实，今日头条号介绍没有那么高深莫测，就</tspan><tspan x="1571" y="7216">好比我们平时玩QQ、微信一样，只需要把自</tspan><tspan x="1571" y="7234">己的这个头条号的特色、特点说出来就行了。</tspan><tspan x="1571" y="7252">所以，我们在写今日头条号介绍的时候，要根</tspan><tspan x="1571" y="7270">据自己的优势和爱好，并结合头条号的名称和</tspan><tspan x="1571" y="7288">品牌特点，浓缩整合成几句话就可以了。当然</tspan><tspan x="1571" y="7306">，能够写得更加有特色，有新意，有趣味，那</tspan><tspan x="1571" y="7324">就更加完美了。</tspan></text></g>
<g id="p9-2"><text class="t"><tspan x="1571" y="7477">比如懿古今这个头条号：由于这个名称来源于</tspan><tspan x="1571" y="7495">我的生活博客，而且我也在玩独立博客导航，</tspan><tspan x="1571" y="7513">并且懂得一些WordPress技术，所以我的这</tspan><tspan x="1571" y="7531">个懿古今头条号介绍就写成：</tspan></text></g>
<g id="p9-2-1"><text class="t"><tspan x="1893" y="7386">关注博客导航站的发展、WordPress技术、</tspan><tspan x="1893" y="7404">SEO优化、WordPress主题开发</tspan></text></g>
<g id="p9-2-2"><text class="t"><tspan x="1893" y="7467">虽然看起来不咋的，但是一般人看到这个头条</tspan><tspan x="1893" y="7485">号介绍应该都懂得我的这个头条号主要是分享</tspan><tspan x="1893" y="7503">哪方面的文章吧?如果达到这个效果，那么说</tspan><tspan x="1893" y="7521">明这个介绍应该还是可以的吧。</tspan></text></g>
<g id="p9-2-3"><text class="t"><tspan x="1893" y="7584">其实，最切实有效的做法，就是找几个跟自己</tspan><tspan x="1893" y="7602">性质相似的、已经成功运行的头条号，然后参</tspan><tspan x="1893" y="7620">考他们的介绍来修改调整即可得到自己的头条</tspan><tspan x="1893" y="7638">号介绍。</tspan></text></g>
<g id="p2"><text class="t h" x="794" y="2371">网店介绍范文(篇二)</text></g>
<g id="p2-1"><text class="t a" x="740" y="1622">项目介绍协议书</text></g>
<g id="p2-2"><text class="t a" x="740" y="1685">甲 方</text></g>
<g id="p2-3"><text class="t a" x="740" y="1793">姓 名：</text></g>
<g id="p2-3-1"><text class="t"><tspan x="371" y="1747">公司名称：环球建设工程集团有限公司（项目</tspan><tspan x="371" y="1766">管理公司）</tspan></text></g>
<g id="p2-3-2"><text class="t a" x="656" y="1828">乙 方</text></g>
<g id="p2-4"><text class="t a" x="740" y="1891">姓 名：</text></g>
<g id="p2-5"><text class="t a" x="740" y="1953">公司名称：</text></g>
<g id="p2-6"><text class="t"><tspan x="457" y="2446">根据《中华人民共和国合同法》及相关法律、</tspan><tspan x="457" y="2464">法规，甲、 乙双方本着自愿、平等、顺畅合</tspan><tspan x="457" y="2482">作、互利共赢的经营原则， 经双方充分协商</tspan><tspan x="457" y="2500">，就甲方向乙方介绍大理展兴泰安新城安置房</tspan><tspan x="457" y="2519">项目服务费用，订立本协议，谨以共同遵守：</tspan></text></g>
<g id="p2-6-1"><text class="t"><tspan x="136" y="2015">第一条：甲方将大理展兴房地产开发有限责任</tspan><tspan x="136" y="2034">公司项目介绍给乙方，从中收取相应的预结算</tspan><tspan x="136" y="2053">总造价 %的咨询介绍服务费用，暂定金额 万</tspan><tspan x="136" y="2071">元。</tspan></text></g>
<g id="p2-6-2"><text class="t"><tspan x="136" y="2132">第二条：费用收取方式采用分次收取。乙方与</tspan><tspan x="136" y="2150">业主签定施工合同一周内支付甲方 万元（大</tspan><tspan x="136" y="2168">写： ），其余费用在乙方第一次收取拨款方</tspan><tspan x="136" y="2187">拨款之日起的7个工作日内，应向甲方支付以</tspan><tspan x="136" y="2205">拨款金额的 %的咨询介绍服务费。之后乙方</tspan><tspan x="136" y="2223">每次收取拨款方拨款之日起的7个工作日内，</tspan><tspan x="136" y="2241">应向甲方支付拨款金额的. %的咨询介绍服务</tspan><tspan x="136" y="2259">费。每个单位工程结算完后，乙方应一次性支</tspan><tspan x="136" y="2277">付剩下的所有介绍服务费用。</tspan></text></g>
<g id="p2-6-3"><text class="t"><tspan x="136" y="2339">第三条：在本协议有效期内，甲方不得与任何</tspan><tspan x="136" y="2358">第三方签 订介绍协议。</tspan></text></g>
<g id="p2-6-4"><text class="t"><tspan x="136" y="2419">第四条：项目中的水电工程，乙方应交由甲方</tspan><tspan x="136" y="2438">施工。相关协议双方另行签署。</tspan></text></g>
<g id="p2-6-5"><text class="t"><tspan x="136" y="2500">第五条：违约责任。如果乙方不履行本协议或</tspan><tspan x="136" y="2518">履行本协议不符合约定或单方终止合同的，不</tspan><tspan x="136" y="2536">按时支付相应介绍费用，应当承担违约责任，</tspan><tspan x="136" y="2554">由此给甲方造成损失的应当承担全部赔偿责任</tspan><tspan x="136" y="2572">，并按合同金额双倍支付给甲方。</tspan></text></g>
<g id="p2-6-6"><text class="t"><tspan x="136" y="2635">第六条：本协议在履行过程中发生的争议，由</tspan><tspan x="136" y="2653">甲、乙双方自行协商解决，如协商无果，任何</tspan><tspan x="136" y="2671">一方均可向当地人民法院起诉对方。</tspan></text></g>
<g id="p2-6-7"><text class="t"><tspan x="136" y="2733">第七条：本协议未尽事宜，双方另行协商，所</tspan><tspan x="136" y="2751">达成之补充协议作为本协议附件与本协议具有</tspan><tspan x="136" y="2769">同等法律效力。</tspan></text></g>
<g id="p2-6-8"><text class="t"><tspan x="136" y="2831">第八条：本协议一式两份，甲、乙双方各执一</tspan><tspan x="136" y="2849">份，每份具有同等的法律效力。</tspan></text></g>
<g id="p2-6-9"><text class="t"><tspan x="136" y="2913">第九条：本协议自双方授权代表签署之日起生</tspan><tspan x="136" y="2931">效。</tspan></text></g>
<g id="p2-7"><text class="t a" x="740" y="2993">甲 方（盖章）： 乙 方（盖章）：</text></g>
<g id="p2-8"><text class="t a" x="740" y="3056">甲方签字： 乙 方签字：</text></g>
<g id="p2-9"><text class="t a" x="740" y="3118">签署时间： 签署时间：</text></g>
<g id="p4"><text class="t h" x="793" y="3351">网店介绍范文(篇四)</text></g>
<g id="p4-1"><text class="t e" x="636" y="3351">ear Professor：</text></g>
<g id="p4-1-1"><text class="t e"><tspan x="315" y="3180">Mr Ma requested a letter of reference</tspan><tspan x="315" y="3198">from me to support his application for</tspan><tspan x="315" y="3216">postgraduate</tspan></text></g>
<g id="p4-1-2"><text class="t e"><tspan x="315" y="3278">studies at your university. As his tutor</tspan><tspan x="315" y="3296">when he prepared his project design for</tspan><tspan x="315" y="3314">graduation, I am pleased to comply with</tspan><tspan x="315" y="3332">his request.</tspan></text></g>
<g id="p4-1-3"><text class="t e"><tspan x="315" y="3395">I became acquainted with Mr Ma when I</tspan><tspan x="315" y="3413">had him on my class， his excellent</tspan><tspan x="315" y="3431">capacity for analytical thinking and ability</tspan><tspan x="315" y="3449">to express his ideas orally and I</tspan><tspan x="315" y="3467">remembered his name at once. But I was</tspan><tspan x="315" y="3485">astonihed by his learning ability; he</tspan><tspan x="315" y="3503">listened to my lesson with his thought,</tspan><tspan x="315" y="3521">especially when I taught them some</tspan><tspan x="315" y="3539">emphases and difficulties of the  was</tspan><tspan x="315" y="3557">impressed by his unique views about</tspan><tspan x="315" y="3576">the difficulties which reflected his</tspan><tspan x="315" y="3594">insight and logic better than othis</tspan><tspan x="315" y="3612">students.</tspan></text></g>
<g id="p6"><text class="t h" x="793" y="4094">网店介绍范文(篇六)</text></g>
<g id="p6-1"><text class="t e a" x="740" y="3674">Dear Mr. Johnson,</text></g>
<g id="p6-2"><text class="t e"><tspan x="458" y="3737">I take great pleasure in introducing Mary</tspan><tspan x="458" y="3755">Brown one of my classmates and best</tspan><tspan x="458" y="3773">friends to you. She is going to pursue her</tspan><tspan x="458" y="3791"> education as a postgraduate in your</tspan><tspan x="458" y="3809">university after her graduation here. She</tspan><tspan x="458" y="3827">and I had lived and studied together for</tspan><tspan x="458" y="3845">four years. No friend deserves so much</tspan><tspan x="458" y="3864">love and respect as she does. Now that</tspan><tspan x="458" y="3882">we have finished our study here we had</tspan><tspan x="458" y="3900">to part with each other.</tspan></text></g>
<g id="p6-3"><text class="t e"><tspan x="458" y="3962">Will you please give her some guidance</tspan><tspan x="458" y="3980">in regard to the entrance examination?</tspan><tspan x="458" y="3999">Any information you can provide, as well</tspan><tspan x="458" y="4017">as your introduction for him to meet the</tspan><tspan x="458" y="4035">future tutor shall be appreciated very</tspan><tspan x="458" y="4053">much.</tspan></text></g>
<g id="p6-4"><text class="t e a" x="740" y="4115">Yours truly,</text></g>
<g id="p6-5"><text class="t e a" x="740" y="4177">Emma</text></g>
<g id="p6-6"><text class="t a" x="740" y="4514">译文</text></g>
<g id="p6-6-1"><text class="t a" x="668" y="4335">亲爱的约翰逊先生：</text></g>
<g id="p6-6-1-1"><text class="t"><tspan x="222" y="4242">很高兴地向您介绍我的同学也是我的好朋友，</tspan><tspan x="222" y="4260">玛丽。她毕业后想继续到你们学校读研究生。</tspan><tspan x="222" y="4277">我们在一起生活和学习了四年。没有一个比她</tspan><tspan x="222" y="4295">更好的朋友，可是马上要毕业了，我们也不得</tspan><tspan x="222" y="4313">不面对分离。</tspan></text></g>
<g id="p6-6-1-2"><text class="t"><tspan x="222" y="4375">你可以给她提供一些有关入学考试的信息吗?</tspan><tspan x="222" y="4393">你如果能给她提供一些信息，能帮她安排和导</tspan><tspan x="222" y="4411">师见面的话，我将非常感谢。</tspan></text></g>
<g id="p6-6-2"><text class="t a" x="668" y="4474">您真挚的：</text></g>
<g id="p6-6-2-1"><text class="t a" x="556" y="4474">艾玛</text></g>
<g id="p6-6-3"><text class="t"><tspan x="390" y="4666">正式介绍信是写信人因公务把自己的同事或业</tspan><tspan x="390" y="4685">务关系介绍给某单位或某个人。 这种介绍信</tspan><tspan x="390" y="4703">言和格式比较规范、严谨， 内容一般包括以</tspan><tspan x="390" y="4721">下几个方面：</tspan></text></g>
<g id="p6-6-3-1"><text class="t" x="100" y="4538">(1)简单地介绍一下被介绍人的情况。</text></g>
<g id="p6-6-3-2"><text class="t"><tspan x="100" y="4599">(2)说明事由，并要求对方给予某</tspan><tspan x="100" y="4617">种帮助。</tspan></text></g>
<g id="p6-6-3-3"><text class="t" x="100" y="4680">(3)对对方的帮助预先表示感谢。</text></g>
<g id="p6-6-3-4"><text class="t"><tspan x="100" y="4741">(4)如果是熟悉的业务往来单位，</tspan><tspan x="100" y="4759">也可以附带询问一下工作上的情况，并致</tspan><tspan x="100" y="4777">以问候。</tspan></text></g>
<g id="p6-6-3-5"><text class="t"><tspan x="100" y="4840">(5)介绍信一般篇幅不长，</tspan><tspan x="100" y="4858">常常可以放在一个段落里。</tspan></text></g>
<g id="p8"><text class="t h" x="795" y="5385">网店介绍范文(篇八)</text></g>
<g id="p8-1"><text class="t"><tspan x="459" y="4920">首先可以是自己介绍自己，但是介绍的前提是</tspan><tspan x="459" y="4938">双方地位都对等的条件下，且在自我介绍之前</tspan><tspan x="459" y="4957">最好先了解一下对方的身份喜好等，以方便自</tspan><tspan x="459" y="4975">己寻找到谈话的切入点后再进行自我介绍，这</tspan><tspan x="459" y="4993">样才会显得不突兀，并且比较容易让人记住自</tspan><tspan x="459" y="5011">己</tspan></text></g>
<g id="p8-2"><text class="t"><tspan x="459" y="5073">如果自己介绍自己实在显得不方便，那我们就</tspan><tspan x="459" y="5091">可以利用他人介绍自己，如可以让自己同行的</tspan><tspan x="459" y="5110">朋友或同事向对方引荐自己；当自己年龄比较</tspan><tspan x="459" y="5128">小时，可以找一个长辈来引荐自己</tspan></text></g>
<g id="p8-3"><text class="t"><tspan x="459" y="5190">介绍的场合。介绍时不仅要看准时间、地点等</tspan><tspan x="459" y="5208">，最好尽量选在对方比较空闲然后情绪也比较</tspan><tspan x="459" y="5226">好的情况下是最有效的，在适当的场合进行自</tspan><tspan x="459" y="5244">我介绍既不会打扰到对方，又比较容易让人留</tspan><tspan x="459" y="5262">下印象</tspan></text></g>
<g id="p8-4"><text class="t"><tspan x="459" y="5325">介绍的态度。对方是否想与你交谈或者倾听，</tspan><tspan x="459" y="5343">取决于你表现出的态度，所以在态度上一定要</tspan><tspan x="459" y="5361">注意，要尽量做到自然、友善、亲切、随和。</tspan><tspan x="459" y="5380">要给人一种落落大方的感觉，既不能过显傲慢</tspan><tspan x="459" y="5398">让人反感，也不能露出畏怯和紧张，容易被他</tspan><tspan x="459" y="5416">人所轻视，要表达出自己渴望认识对方的真诚</tspan><tspan x="459" y="5434">情感</tspan></text></g>
<g id="p8-5"><text class="t"><tspan x="459" y="5495">介绍的时间。介绍时最好简洁，言简意赅的介</tspan><tspan x="459" y="5513">绍自己的姓名、工作单位及职务等便可，介绍</tspan><tspan x="459" y="5531">完后还可以顺便把自己的名片也递上就好。总</tspan><tspan x="459" y="5550">之，介绍自身的情况时不可讲太多的废话，这</tspan><tspan x="459" y="5568">会消耗别人的耐心以及难以让对方记住</tspan></text></g>
<g id="p8-6"><text class="t"><tspan x="459" y="5631">介绍的原则。首先要分清谁求谁，如果是自己</tspan><tspan x="459" y="5649">有求于对方，那就先做自我介绍；其次是职位</tspan><tspan x="459" y="5667">的高低，如果自己是低职位就先介绍自己；再</tspan><tspan x="459" y="5686">者就是年龄的大小，年龄比较小的要先介绍自</tspan><tspan x="459" y="5704">己；顺下来就是性别，男性要先介绍自己；最</tspan><tspan x="459" y="5722">后是国籍，如果有外国人来访，则自己要先向</tspan><tspan x="459" y="5740">外国人介绍自己</tspan></text></g>
<g id="p8-7"><text class="t" x="459" y="5803">介绍最重要的也还是要给人留下好的第一印象</text></g>
</g>
</svg>
